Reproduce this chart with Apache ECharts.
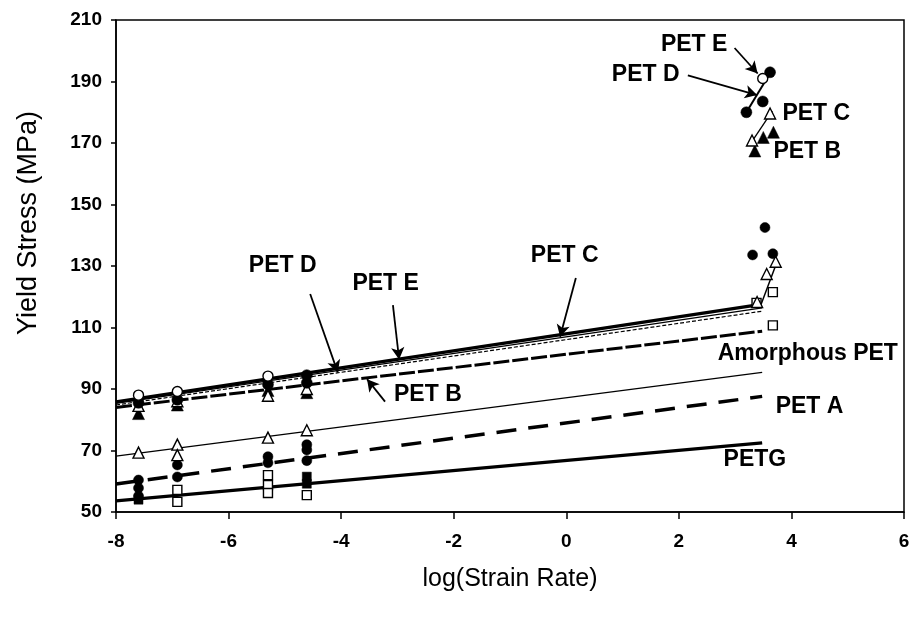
<!DOCTYPE html>
<html>
<head>
<meta charset="utf-8">
<title>Yield stress vs strain rate</title>
<script src="https://cdn.jsdelivr.net/npm/echarts@6/dist/echarts.min.js"></script>
<style>
  html, body { margin: 0; padding: 0; background: #fff; }
  #chart { width: 914px; height: 618px; }
</style>
</head>
<body>
<div id="chart"></div>
<script>
// Axis setup
const xTicks = [-8, -6, -4, -2, 0, 2, 4, 6];
const yTicks = [50, 70, 90, 110, 130, 150, 170, 190, 210];

// Measured yield stress points: [ln(strain rate), MPa]
const petEOpen = [[-7.6, 88.0], [-6.91, 89.2], [-5.3, 94.2], [3.49, 191.0]];
const petDFilled = [[-7.6, 85.5], [-6.91, 86.5], [-5.3, 91.5], [-4.61, 94.5], [-4.61, 92.0],
                    [3.2, 180.0], [3.49, 183.5], [3.62, 193.0]];
const petCOpen = [[-7.6, 84.5], [-6.91, 86.0], [-5.3, 87.8], [-4.61, 90.0],
                  [3.3, 170.8], [3.62, 179.6]];
const petBFilled = [[-7.6, 82.0], [-6.91, 84.8], [-5.3, 89.5], [-4.61, 88.8],
                    [3.35, 167.4], [3.5, 171.8], [3.68, 173.5]];
const amorphousOpen = [[-7.6, 69.3], [-6.91, 71.9], [-6.91, 68.5], [-5.3, 74.2], [-4.61, 76.6],
                       [3.39, 118.3], [3.56, 127.4], [3.72, 131.4]];
const petAFilled = [[-7.6, 60.4], [-7.6, 57.8], [-7.6, 55.2], [-6.91, 65.3], [-6.91, 61.4],
                    [-5.3, 68.0], [-5.3, 66.0], [-4.61, 71.9], [-4.61, 70.2], [-4.61, 66.7],
                    [3.31, 133.6], [3.53, 142.5], [3.67, 134.0]];
const petgOpen = [[-6.91, 57.2], [-6.91, 53.3], [-5.3, 62.0], [-5.3, 58.8], [-5.3, 56.2],
                  [-4.61, 55.5], [3.38, 118.0], [3.67, 121.5], [3.67, 110.7]];
const petgFilled = [[-7.6, 54.0], [-4.61, 61.5], [-4.61, 59.2]];

// Eyring-type fit lines
const fitPETG = [[-8, 53.6], [3.48, 72.5]];
const fitPETA = [[-8, 59.1], [3.48, 87.6]];
const fitAmorphous = [[-8, 68.2], [3.48, 95.4]];
const fitPETB = [[-8, 84.0], [3.48, 108.8]];
const fitPETD = [[-8, 84.8], [3.48, 115.3]];
const fitPETE = [[-8, 85.3], [3.48, 116.4]];
const fitPETC = [[-8, 85.8], [3.46, 117.5]];
const highC = [[3.46, 117.5], [3.75, 131.6]];
const highDE = [[3.2, 180.0], [3.65, 193.6]];
const highBC = [[3.3, 170.5], [3.66, 180.4]];

// Text labels: [x, y, text]
const labels = [
  [2.28, 201.8, 'PET E'],
  [1.42, 192.0, 'PET D'],
  [4.45, 179.3, 'PET C'],
  [4.29, 166.9, 'PET B'],
  [-5.03, 130.0, 'PET D'],
  [-3.20, 124.1, 'PET E'],
  [-0.02, 133.3, 'PET C'],
  [-2.45, 87.9, 'PET B'],
  [4.30, 101.3, 'Amorphous PET'],
  [4.33, 84.0, 'PET A'],
  [3.36, 67.0, 'PETG']
];

// Pointer arrows: [fromX, fromY, toX, toY]
const arrows = [
  [2.99, 200.9, 3.40, 192.6],
  [2.16, 192.0, 3.39, 185.6],
  [-4.55, 120.9, -4.06, 95.4],
  [-3.08, 117.3, -2.97, 99.6],
  [0.17, 126.1, -0.11, 107.0],
  [-3.22, 85.9, -3.54, 93.2]
];

const FONT = '"Liberation Sans", Arial, sans-serif';

function fit(name, data, width, type) {
  return {
    name: name, type: 'line', data: data, showSymbol: false, symbol: 'none',
    silent: true, z: 2,
    lineStyle: { color: '#000', width: width, type: type || 'solid', opacity: 1 }
  };
}

function pts(name, data, symbol, filled, size) {
  return {
    name: name, type: 'scatter', data: data, symbol: symbol, symbolSize: size || 9, z: 4,
    itemStyle: filled
      ? { color: '#000', borderColor: '#000', borderWidth: 0.5, opacity: 1 }
      : { color: '#fff', borderColor: '#000', borderWidth: 1.4, opacity: 1 }
  };
}

const chart = echarts.init(document.getElementById('chart'), null, { renderer: 'canvas' });

const option = {
  backgroundColor: '#fff',
  animation: false,
  grid: { left: 116, right: 10, top: 20, bottom: 106, show: true, borderColor: '#000', borderWidth: 1.5 },
  xAxis: {
    type: 'value', min: xTicks[0], max: xTicks[xTicks.length - 1], interval: 2,
    name: 'log(Strain Rate)', nameLocation: 'middle', nameGap: 55,
    nameTextStyle: { fontFamily: FONT, fontSize: 25, color: '#000' },
    axisLine: { show: true, onZero: false, lineStyle: { color: '#000', width: 1.5 } },
    axisTick: { show: true, inside: false, length: 7, lineStyle: { color: '#000', width: 1.5 } },
    axisLabel: { margin: 20, fontFamily: FONT, fontSize: 19, fontWeight: 'bold', color: '#000' },
    splitLine: { show: false }
  },
  yAxis: {
    type: 'value', min: yTicks[0], max: yTicks[yTicks.length - 1], interval: 20,
    name: 'Yield Stress (MPa)', nameLocation: 'middle', nameGap: 74,
    nameTextStyle: { fontFamily: FONT, fontSize: 27, color: '#000', padding: [0, 0, 0, 86] },
    axisLine: { show: true, onZero: false, lineStyle: { color: '#000', width: 1.5 } },
    axisTick: { show: true, inside: false, length: 5, lineStyle: { color: '#000', width: 1.5 } },
    axisLabel: { margin: 14, fontFamily: FONT, fontSize: 19, fontWeight: 'bold', color: '#000' },
    splitLine: { show: false }
  },
  series: [
    fit('PETG fit', fitPETG, 3.2),
    fit('PET A fit', fitPETA, 3.5, [20, 12]),
    fit('Amorphous PET fit', fitAmorphous, 1.3),
    fit('PET B fit', fitPETB, 3, [16, 3]),
    fit('PET D fit', fitPETD, 1.2, [4, 2]),
    fit('PET E fit', fitPETE, 1.2),
    fit('PET C fit', fitPETC, 3.2),
    fit('PET C high rate', highC, 1.5),
    fit('PET D/E high rate', highDE, 2),
    fit('PET B/C high rate', highBC, 1.3),
    pts('PETG', petgOpen, 'rect', false, 9),
    pts('PETG solid', petgFilled, 'rect', true, 9),
    pts('PET A', petAFilled, 'circle', true, 10),
    pts('Amorphous PET', amorphousOpen, 'triangle', false, 11),
    pts('PET B', petBFilled, 'triangle', true, 12),
    pts('PET C', petCOpen, 'triangle', false, 11),
    pts('PET D', petDFilled, 'circle', true, 11),
    pts('PET E', petEOpen, 'circle', false, 10),
    {
      name: 'arrows', type: 'line', data: [], silent: true, z: 5,
      markLine: {
        silent: true, animation: false,
        symbol: ['none', 'arrow'], symbolSize: [10, 12],
        label: { show: false },
        lineStyle: { color: '#000', width: 1.8, type: 'solid', opacity: 1 },
        data: arrows.map(a => [{ coord: [a[0], a[1]] }, { coord: [a[2], a[3]] }])
      }
    },
    {
      name: 'labels', type: 'scatter', data: labels, symbolSize: 1, silent: true, z: 6,
      itemStyle: { color: 'rgba(0,0,0,0)', opacity: 1 },
      label: {
        show: true, position: [0, 0], align: 'center', verticalAlign: 'middle',
        formatter: p => p.data[2], opacity: 1,
        fontFamily: FONT, fontSize: 23, fontWeight: 'bold', color: '#000'
      }
    }
  ]
};

chart.setOption(option);
</script>
</body>
</html>
